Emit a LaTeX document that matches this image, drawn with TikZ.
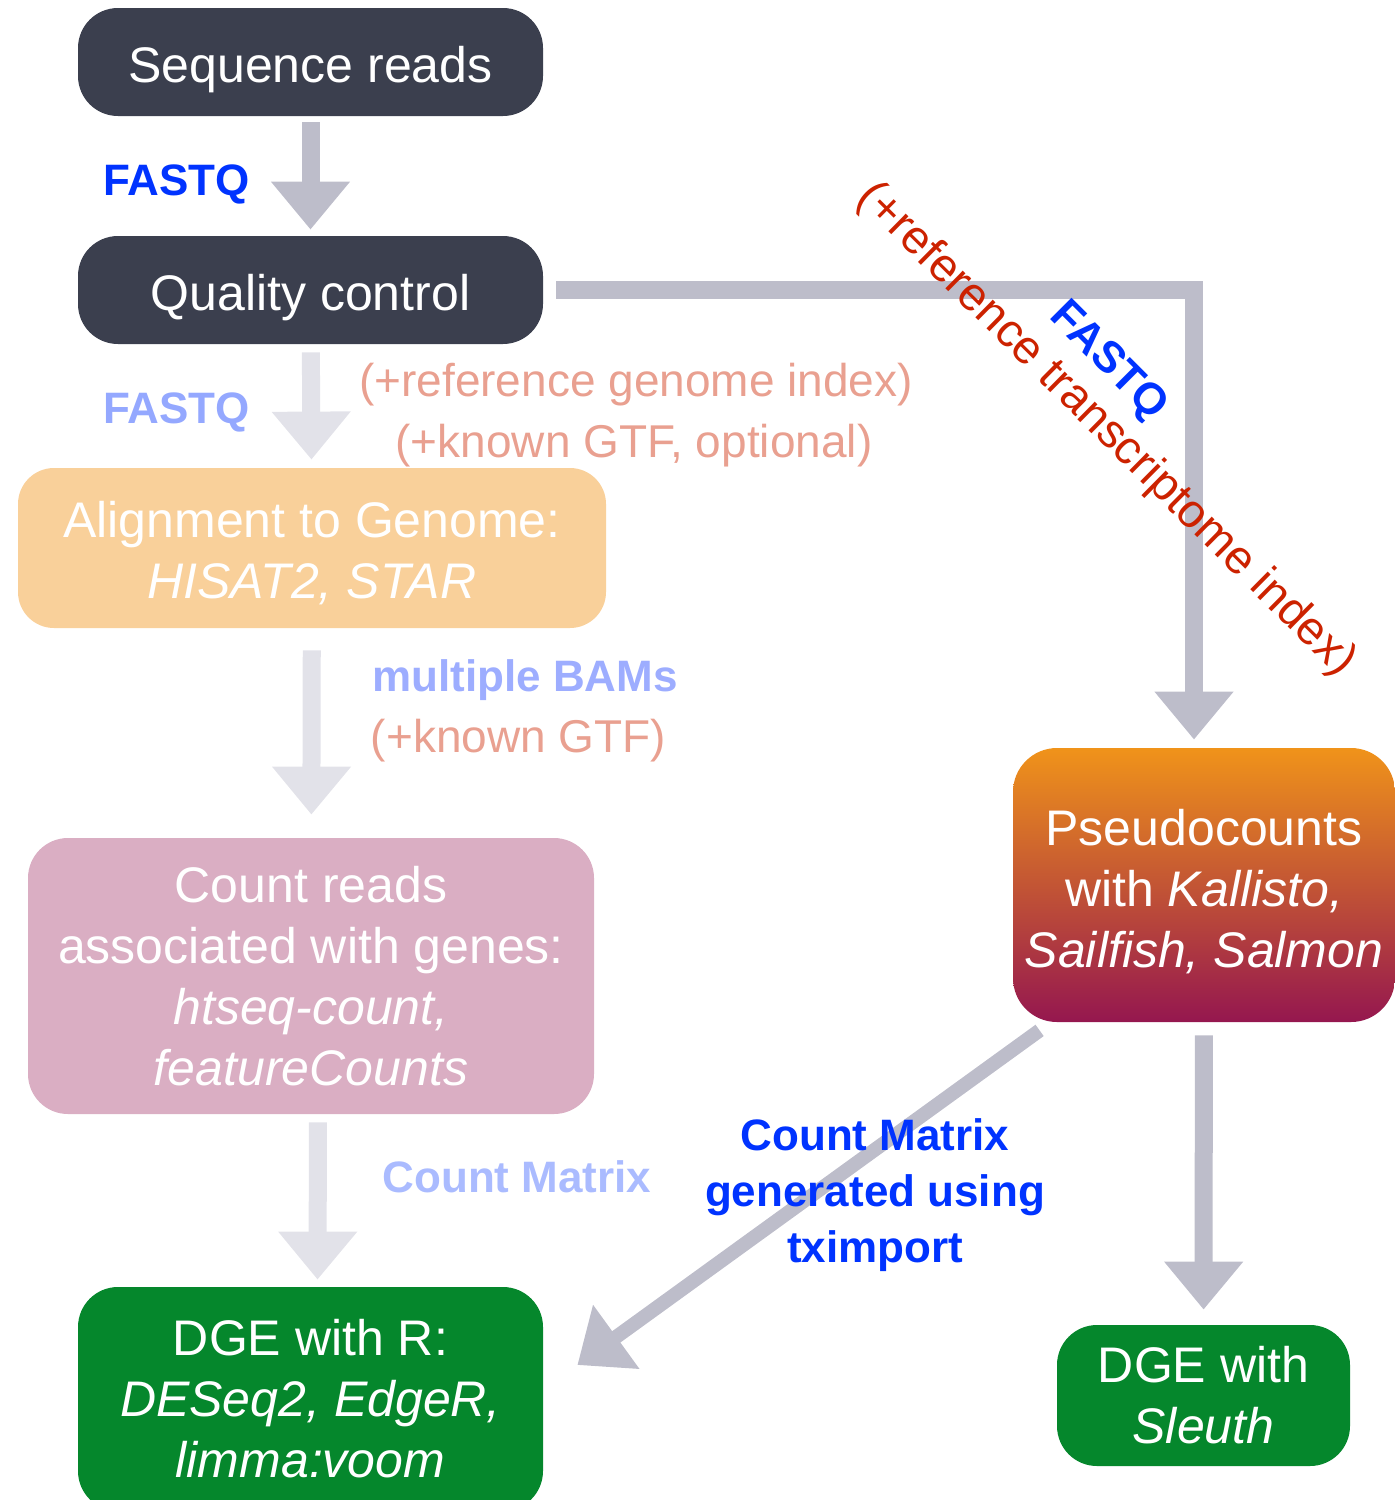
\documentclass[tikz,border=0pt]{standalone}
\usepackage{fontspec}
\setmainfont{Liberation Sans}
\usetikzlibrary{arrows.meta}
\definecolor{boxdark}{HTML}{3B3F4E}
\definecolor{boxorange}{HTML}{F9D09A}
\definecolor{boxpink}{HTML}{DAAEC3}
\definecolor{boxgreen}{HTML}{05872C}
\definecolor{gradtop}{HTML}{F0931A}
\definecolor{gradbot}{HTML}{95174F}
\definecolor{arrowgray}{HTML}{BDBDCA}
\definecolor{arrowpale}{HTML}{E2E2E9}
\definecolor{fqblue}{HTML}{0033FF}
\definecolor{fqpale}{HTML}{94A8FF}
\definecolor{bampale}{HTML}{9DADFF}
\definecolor{cmpale}{HTML}{AABBFF}
\definecolor{salmon}{HTML}{E9A090}
\definecolor{refred}{HTML}{CC2200}
\newcommand{\toppad}[1]{\rule{0pt}{#1}}
\begin{document}
\begin{tikzpicture}[x=0.5pt, y=-0.5pt,
  box/.style={rounded corners=20pt, inner sep=0pt, text=white, align=center, font=\fontsize{25}{30.5}\selectfont},
  onebox/.style={box, fill=boxdark, minimum width=232.5pt, minimum height=54pt, text height=20.5pt, text depth=0pt},
  fat/.style={line width=9pt, draw=arrowgray, -{Triangle[width=38pt,length=24pt]}},
  fatpale/.style={fat, draw=arrowpale},
  lbl/.style={font=\fontsize{22}{28}\selectfont\bfseries, anchor=base},
  note/.style={font=\fontsize{23}{28}\selectfont, text=salmon, anchor=base}]
  \useasboundingbox (0,0) rectangle (1395,1500);

  % Nodes
  \node[onebox] (seq) at (310.5,62) {Sequence reads};
  \node[onebox] (qc) at (310.5,290) {Quality control};
  \node[box, fill=boxorange, rounded corners=18pt, minimum width=294pt, minimum height=80pt] (align) at (312,548) {\toppad{23.3pt}Alignment to Genome:\\\textit{HISAT2, STAR}};
  \node[box, fill=boxpink, minimum width=283pt, minimum height=138pt] (count) at (311,976) {Count reads\\associated with genes:\\\textit{htseq-count,}\\\textit{featureCounts}};
  \node[box, fill=boxgreen, minimum width=232.5pt, minimum height=112pt] (dger) at (310.5,1399) {DGE with R:\\\textit{DESeq2, EdgeR,}\\\textit{limma:voom}};
  \node[box, top color=gradtop, bottom color=gradbot, rounded corners=22pt, minimum width=191pt, minimum height=137pt] (pseudo) at (1204,885) {\toppad{24.3pt}Pseudocounts\\with \textit{Kallisto,}\\\textit{Sailfish, Salmon}};
  \node[box, fill=boxgreen, minimum width=146.5pt, minimum height=70.5pt] (sleuth) at (1203.5,1395.5) {DGE with\\\textit{Sleuth}};

  % Edges
  \draw[fat, shorten <=3pt, shorten >=3pt] (seq) -- (qc);
  \draw[fatpale, shorten <=4pt, shorten >=4pt] (qc) -- (align);
  \draw[fatpale, shorten <=11pt, shorten >=11.5pt] (align) -- (count);
  \draw[fatpale, shorten <=4pt, shorten >=3.5pt] ([xshift=3.5pt]count.south) -- ([xshift=3.5pt]dger.north);
  \draw[fat] ([xshift=6.5pt]qc.east) -| ([xshift=-5pt, yshift=4pt]pseudo.north);
  \draw[fat, shorten <=6.5pt, shorten >=7.5pt] (pseudo) -- (sleuth);
  \draw[fat, line width=7pt] ([xshift=13.5pt, yshift=-4pt]pseudo.south west) -- ([xshift=17pt, yshift=17pt]dger.east);

  % Labels
  \node[lbl, text=fqblue] (fq1) at (176.5,195) {FASTQ};
  \node[lbl, text=fqpale] (fq2) at (176.5,423) {FASTQ};
  \node[note] (refgen) at (636,396) {(+reference genome index)};
  \node[note] (gtfopt) at (634,457) {(+known GTF, optional)};
  \node[lbl, text=bampale] (bams) at (525,691) {multiple BAMs};
  \node[note] (gtf) at (518.5,752) {(+known GTF)};
  \node[lbl, text=cmpale] (cm) at (517,1192) {Count Matrix};
  \node[lbl, text=fqblue, anchor=center, align=center] (txi) at (875,1195) {Count Matrix\\generated using\\tximport};
  \node[font=\fontsize{23.5}{28}\selectfont, text=refred, rotate=-44.7] (reftx) at (1106,430) {(+reference transcriptome index)};
  \node[lbl, text=fqblue, anchor=center, rotate=-45] (fq3) at (1108,362) {FASTQ};
\end{tikzpicture}
\end{document}
